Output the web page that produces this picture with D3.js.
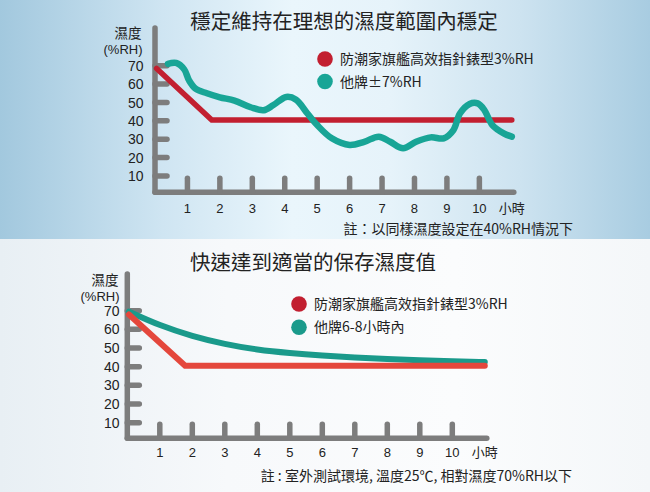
<!DOCTYPE html>
<html><head><meta charset="utf-8">
<script src="https://cdn.jsdelivr.net/npm/d3@7"></script>
<style>
html,body{margin:0;padding:0;background:#fff;}
svg{display:block;}
text{font-family:"Liberation Sans","Noto Sans CJK TC",sans-serif;fill:#222;}
.cjk{font-family:"Noto Sans CJK TC","Noto Sans CJK SC",sans-serif;}
</style></head>
<body>
<script>
// ---------- data ----------
const xTickValues = [1,2,3,4,5,6,7,8,9,10];
const xTickLabels = ["1","2","3","4","5","6","7","8","9","10","小時"];
const yTickValues = [10,20,30,40,50,60,70];

const topTitle = "穩定維持在理想的濕度範圍內穩定";
const topLegend = ["防潮家旗艦高效指針錶型3%RH", "他牌±7%RH"];
const topNote = "註：以同樣濕度設定在40%RH情況下";
const topRed = [[0.05,68.5],[1.75,40.5],[11,40.5]];
const topTeal = [[0.4,71],[0.65,71.5],[0.9,68],[1.05,62],[1.25,57.5],[1.6,55],[2.0,52.8],[2.45,51],
  [2.95,47.4],[3.35,45.8],[3.65,48.6],[4.05,53],[4.35,51.5],[4.7,44],[5.0,37.7],[5.45,30.5],
  [6.0,26.9],[6.45,28.6],[6.9,31.4],[7.25,28.6],[7.65,25.1],[8.05,28.6],[8.5,31],[8.9,30.5],
  [9.2,35],[9.4,44],[9.7,49.2],[9.95,49.5],[10.15,46],[10.4,37.7],[10.75,33.2],[11.0,31.4]];

const botTitle = "快速達到適當的保存濕度值";
const botLegend = ["防潮家旗艦高效指針錶型3%RH", "他牌6-8小時內"];
const botNote = "註 : 室外測試環境, 溫度25℃, 相對濕度70%RH以下";
const botRed = [[0.05,68],[1.78,40.5],[11,40.5]];
const botTeal = [[0.05,69.5],[1,62],[2,56.3],[3,52],[4,49],[5,47.3],[6,46],[7,44.9],[8,44.1],[9,43.4],[10,42.9],[11,42.5]];

// ---------- drawing ----------
const W = 650, H = 492;
const svg = d3.select("body").append("svg").attr("width", W).attr("height", H);
const defs = svg.append("defs");

const g1 = defs.append("linearGradient").attr("id","bgTop").attr("x1","0").attr("x2","1").attr("y1","0").attr("y2","0");
[[0,"#a2c8de"],[0.25,"#cfe5f2"],[0.45,"#eaf6fc"],[0.6,"#e6f3fa"],[0.8,"#cde3f0"],[1,"#a8cce1"]]
  .forEach(([o,c]) => g1.append("stop").attr("offset",o).attr("stop-color",c));
const g2 = defs.append("linearGradient").attr("id","bgBot").attr("x1","0").attr("x2","1").attr("y1","0").attr("y2","0");
[[0,"#e8eff4"],[0.35,"#f7f9fb"],[0.7,"#fbfcfd"],[1,"#f4f7f9"]]
  .forEach(([o,c]) => g2.append("stop").attr("offset",o).attr("stop-color",c));

svg.append("rect").attr("x",0).attr("y",0).attr("width",W).attr("height",239).attr("fill","url(#bgTop)");
svg.append("rect").attr("x",0).attr("y",239).attr("width",W).attr("height",H-239).attr("fill","url(#bgBot)");

function drawChart(cfg) {
  const g = svg.append("g");
  const x = d3.scaleLinear().domain([0,11]).range([cfg.x0, cfg.x11]);
  const y = d3.scaleLinear().domain([10,70]).range([cfg.y10, cfg.y70]);
  const axisColor = "#7d7d7d";

  // title
  g.append("text").attr("class","cjk").attr("x",cfg.titleX).attr("y",cfg.titleY)
    .attr("text-anchor","middle").attr("font-size",20.5).attr("fill","#1a1a1a").text(cfg.title);

  // axes bars
  g.append("line").attr("x1",x(0)).attr("x2",x(0)).attr("y1",cfg.axisTop).attr("y2",cfg.axisY)
    .attr("stroke",axisColor).attr("stroke-width",5.5).attr("stroke-linecap","round");
  g.append("line").attr("x1",x(0)).attr("x2",x(11)+2).attr("y1",cfg.axisY).attr("y2",cfg.axisY)
    .attr("stroke",axisColor).attr("stroke-width",5.5).attr("stroke-linecap","round");

  // y stubs + labels
  g.selectAll(".ys").data(yTickValues).join("line")
    .attr("x1",x(0)).attr("x2",x(0)+12).attr("y1",d=>y(d)).attr("y2",d=>y(d))
    .attr("stroke",axisColor).attr("stroke-width",5.5).attr("stroke-linecap","round");
  g.selectAll(".yl").data(yTickValues).join("text")
    .attr("x",cfg.yLabelRight).attr("y",d=>y(d)).attr("dy","0.36em")
    .attr("text-anchor","end").attr("font-size",14).text(d=>d);

  // x stubs + labels
  g.selectAll(".xs").data(xTickValues).join("line")
    .attr("x1",d=>x(d)).attr("x2",d=>x(d)).attr("y1",cfg.axisY).attr("y2",cfg.axisY-14)
    .attr("stroke",axisColor).attr("stroke-width",5.5).attr("stroke-linecap","round");
  g.selectAll(".xl").data(xTickLabels).join("text")
    .attr("class",(d,i)=> i===10 ? "cjk" : null)
    .attr("x",(d,i)=>x(i+1)).attr("y",cfg.xLabelY).attr("dy","0.36em")
    .attr("text-anchor","middle").attr("font-size",13).text(d=>d);

  // y title
  g.append("text").attr("class","cjk").attr("x",cfg.yTitleX).attr("y",cfg.yTitleY).attr("dy","0.36em")
    .attr("text-anchor","middle").attr("font-size",13.5).text("濕度");
  g.append("text").attr("x",cfg.yTitleX-5).attr("y",cfg.yTitleY+16).attr("dy","0.36em")
    .attr("text-anchor","middle").attr("font-size",13).text("(%RH)");

  // lines
  const line = d3.line().x(d=>x(d[0])).y(d=>y(d[1]));
  const drawRed = () => g.append("path").attr("d", line.curve(d3.curveLinear)(cfg.red))
    .attr("fill","none").attr("stroke",cfg.redColor).attr("stroke-width",cfg.redW)
    .attr("stroke-linecap","round").attr("stroke-linejoin","miter");
  const drawTeal = () => g.append("path").attr("d", line.curve(cfg.tealCurve)(cfg.teal))
    .attr("fill","none").attr("stroke",cfg.tealColor).attr("stroke-width",cfg.tealW)
    .attr("stroke-linecap","round").attr("stroke-linejoin","round");
  if (cfg.redOnTop) { drawTeal(); drawRed(); } else { drawRed(); drawTeal(); }

  // legend
  const lg = g.append("g");
  cfg.legend.forEach((t,i) => {
    const cy = cfg.legendY + i*cfg.legendGap;
    lg.append("circle").attr("cx",cfg.legendX).attr("cy",cy).attr("r",7.8)
      .attr("fill", i===0 ? cfg.legendRed : cfg.tealColor);
    lg.append("text").attr("class","cjk").attr("x",cfg.legendX+15).attr("y",cy).attr("dy","0.36em")
      .attr("font-size",14).text(t);
  });

  // note
  g.append("text").attr("class","cjk").attr("x",cfg.noteRight).attr("y",cfg.noteY).attr("dy","0.36em")
    .attr("text-anchor","end").attr("font-size",14).text(cfg.note);
}

drawChart({
  title: topTitle, titleX: 344, titleY: 29,
  x0: 155, x11: 511.8, y10: 176, y70: 65.7,
  axisTop: 28, axisY: 192.3, yLabelRight: 143.5, xLabelY: 208,
  yTitleX: 128, yTitleY: 33,
  red: topRed, teal: topTeal, redColor: "#c21f30", legendRed: "#c21f30",
  tealColor: "#18a596", redW: 5.5, tealW: 6.5, tealCurve: d3.curveCatmullRom.alpha(0.5), redOnTop: false,
  legend: topLegend, legendX: 325, legendY: 59, legendGap: 22.5,
  note: topNote, noteRight: 573, noteY: 228.5
});

drawChart({
  title: botTitle, titleX: 313, titleY: 270,
  x0: 127.3, x11: 484.8, y10: 422.7, y70: 310.7,
  axisTop: 274, axisY: 438.3, yLabelRight: 119.5, xLabelY: 452.7,
  yTitleX: 105, yTitleY: 280.5,
  red: botRed, teal: botTeal, redColor: "#e4473c", legendRed: "#c21f30",
  tealColor: "#1a9a8b", redW: 6, tealW: 6, tealCurve: d3.curveBasis, redOnTop: true,
  legend: botLegend, legendX: 299, legendY: 304, legendGap: 23.3,
  note: botNote, noteRight: 572, noteY: 476
});
</script>
</body></html>
